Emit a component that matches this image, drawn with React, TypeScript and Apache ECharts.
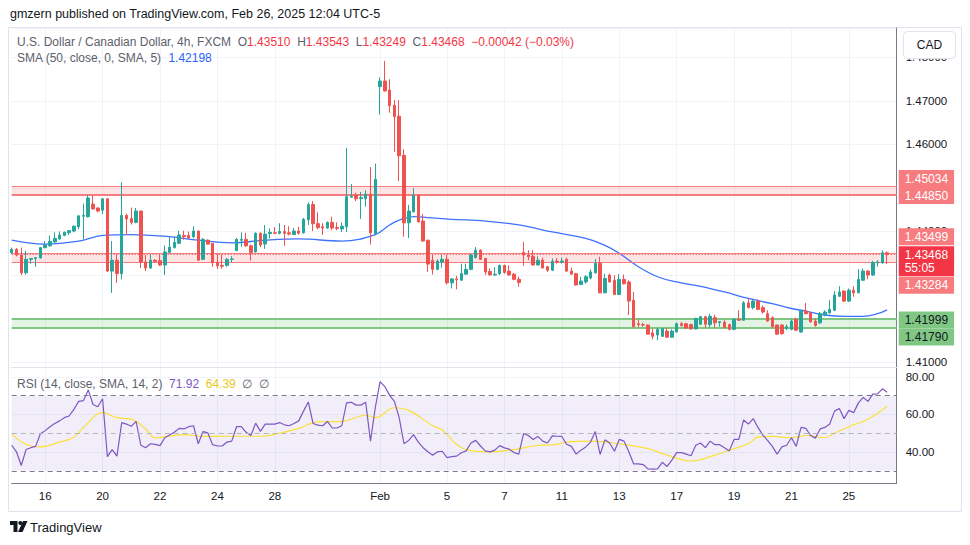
import React, { useEffect, useRef } from "react";
import * as echarts from "echarts";

// ---------------- data ----------------
// 4h USD/CAD candles: [open, close, low, high]
const candles: number[][] = [
  [1.4351, 1.4359, 1.4349, 1.4363], [1.4359, 1.4346, 1.4343, 1.4362], [1.4346, 1.4305, 1.43, 1.4363], [1.4305, 1.4336, 1.4301, 1.4356], [1.4336, 1.4338, 1.4326, 1.4339],
  [1.4338, 1.434, 1.4319, 1.4341], [1.4339, 1.4363, 1.4338, 1.4364], [1.4363, 1.4369, 1.4361, 1.4378], [1.4367, 1.4377, 1.4365, 1.4391], [1.4376, 1.4384, 1.4374, 1.4398],
  [1.4383, 1.4392, 1.4381, 1.44], [1.4391, 1.4398, 1.4389, 1.44], [1.4397, 1.4402, 1.4392, 1.4403], [1.4401, 1.4412, 1.4398, 1.4414], [1.4411, 1.4436, 1.4405, 1.4437],
  [1.4435, 1.4437, 1.4382, 1.4464], [1.4434, 1.4477, 1.4432, 1.4484], [1.4463, 1.4452, 1.445, 1.4483], [1.4454, 1.4447, 1.4444, 1.4456], [1.4449, 1.4475, 1.444, 1.4476],
  [1.4475, 1.4309, 1.4307, 1.4477], [1.4309, 1.4334, 1.4259, 1.4378], [1.4334, 1.4303, 1.4282, 1.4347], [1.4303, 1.4437, 1.429, 1.4513], [1.4437, 1.4429, 1.4392, 1.4441],
  [1.443, 1.4421, 1.4416, 1.4455], [1.4421, 1.4447, 1.4419, 1.4454], [1.4447, 1.433, 1.4316, 1.4448], [1.433, 1.4316, 1.4309, 1.4346], [1.4316, 1.4334, 1.4314, 1.4347],
  [1.4334, 1.4331, 1.4329, 1.4336], [1.4333, 1.4323, 1.4321, 1.4346], [1.4323, 1.4353, 1.43, 1.4368], [1.4352, 1.4364, 1.435, 1.4388], [1.4363, 1.4375, 1.4361, 1.4388],
  [1.4373, 1.4392, 1.4371, 1.4402], [1.4391, 1.4388, 1.4381, 1.4402], [1.4391, 1.4385, 1.4383, 1.44], [1.4388, 1.4401, 1.4384, 1.4412], [1.4401, 1.4334, 1.4333, 1.4402],
  [1.4336, 1.4382, 1.4334, 1.4385], [1.438, 1.4371, 1.437, 1.4382], [1.4373, 1.4328, 1.4319, 1.4373], [1.4329, 1.4321, 1.4314, 1.4348], [1.4322, 1.432, 1.4314, 1.4347],
  [1.4322, 1.4336, 1.4319, 1.4339], [1.4336, 1.4337, 1.4329, 1.4343], [1.4356, 1.4382, 1.4355, 1.4385], [1.438, 1.4382, 1.4365, 1.4398], [1.4382, 1.4367, 1.4365, 1.4397],
  [1.4367, 1.4352, 1.4333, 1.437], [1.4353, 1.4396, 1.4352, 1.4398], [1.4396, 1.4369, 1.4364, 1.4398], [1.4371, 1.4394, 1.436, 1.4415], [1.4395, 1.4398, 1.4384, 1.4407],
  [1.4397, 1.4396, 1.4394, 1.441], [1.4396, 1.44, 1.4393, 1.4419], [1.44, 1.4396, 1.4367, 1.4415], [1.4397, 1.4394, 1.4391, 1.4412], [1.4393, 1.4401, 1.4392, 1.4408],
  [1.4401, 1.4396, 1.4393, 1.4411], [1.4397, 1.4428, 1.4395, 1.4431], [1.4427, 1.4462, 1.4415, 1.4467], [1.4462, 1.4418, 1.4401, 1.447], [1.4418, 1.4409, 1.4405, 1.4444],
  [1.4411, 1.4408, 1.4392, 1.4419], [1.4408, 1.4421, 1.4406, 1.4423], [1.4421, 1.4408, 1.4403, 1.4434], [1.4409, 1.4407, 1.4403, 1.4421], [1.4406, 1.4412, 1.4399, 1.4421],
  [1.4411, 1.448, 1.4399, 1.4592], [1.4479, 1.4481, 1.4478, 1.4509], [1.4484, 1.4475, 1.447, 1.4489], [1.4476, 1.4478, 1.4429, 1.4491], [1.4475, 1.4486, 1.4457, 1.4495],
  [1.4486, 1.4397, 1.437, 1.4548], [1.4395, 1.452, 1.4395, 1.4556], [1.4733, 1.4746, 1.4669, 1.4754], [1.4746, 1.4723, 1.4722, 1.4792], [1.4725, 1.4689, 1.4673, 1.475],
  [1.469, 1.4664, 1.4583, 1.4702], [1.4665, 1.4574, 1.4516, 1.4702], [1.4575, 1.442, 1.4388, 1.4589], [1.442, 1.4447, 1.4385, 1.4461], [1.4445, 1.4483, 1.4445, 1.45],
  [1.4483, 1.4422, 1.4421, 1.4484], [1.4424, 1.4378, 1.4377, 1.444], [1.438, 1.4325, 1.4307, 1.4381], [1.4334, 1.4313, 1.4301, 1.4346], [1.4313, 1.4332, 1.4311, 1.4336],
  [1.433, 1.4336, 1.4317, 1.4346], [1.4336, 1.4282, 1.4278, 1.4346], [1.4282, 1.4291, 1.4269, 1.4293], [1.4291, 1.4289, 1.4267, 1.4298], [1.4288, 1.4303, 1.4287, 1.4326],
  [1.4302, 1.4313, 1.43, 1.4326], [1.4313, 1.4346, 1.4311, 1.4348], [1.434, 1.4357, 1.4338, 1.4364], [1.4357, 1.4336, 1.4335, 1.4359], [1.4338, 1.4307, 1.43, 1.4339],
  [1.4308, 1.43, 1.4299, 1.4315], [1.43, 1.4302, 1.4298, 1.4318], [1.4303, 1.4322, 1.43, 1.4324], [1.4322, 1.4306, 1.4303, 1.4324], [1.4309, 1.43, 1.4299, 1.4322],
  [1.4302, 1.429, 1.4288, 1.4305], [1.429, 1.4283, 1.4273, 1.4296], [1.4352, 1.4346, 1.4321, 1.4376], [1.4346, 1.4342, 1.4334, 1.4357], [1.4343, 1.4323, 1.4322, 1.4357],
  [1.4323, 1.4334, 1.4322, 1.4343], [1.4334, 1.4316, 1.4315, 1.434], [1.4319, 1.4311, 1.4307, 1.4321], [1.4311, 1.4332, 1.4309, 1.4338], [1.4332, 1.433, 1.4326, 1.4339],
  [1.433, 1.4332, 1.4326, 1.434], [1.4336, 1.4309, 1.4307, 1.434], [1.4309, 1.4302, 1.43, 1.4317], [1.4303, 1.4277, 1.4276, 1.4305], [1.4278, 1.4286, 1.4277, 1.4296],
  [1.4284, 1.4296, 1.428, 1.43], [1.4293, 1.4307, 1.429, 1.4313], [1.4305, 1.4327, 1.4303, 1.4337], [1.4327, 1.4259, 1.4258, 1.4342], [1.4259, 1.4292, 1.4258, 1.4303],
  [1.43, 1.4284, 1.4283, 1.4303], [1.4288, 1.4255, 1.4254, 1.43], [1.4255, 1.429, 1.4254, 1.4302], [1.429, 1.428, 1.4278, 1.4301], [1.4284, 1.424, 1.4208, 1.4288],
  [1.4242, 1.4181, 1.418, 1.4261], [1.4188, 1.4186, 1.4179, 1.4198], [1.4186, 1.4185, 1.4181, 1.419], [1.4185, 1.4164, 1.4163, 1.4186], [1.4167, 1.4159, 1.4152, 1.4176],
  [1.4162, 1.4175, 1.415, 1.4179], [1.4159, 1.4177, 1.4158, 1.4179], [1.4171, 1.4157, 1.4156, 1.4179], [1.4157, 1.4171, 1.4156, 1.4175], [1.4169, 1.4188, 1.4168, 1.4191],
  [1.4188, 1.4184, 1.4181, 1.4192], [1.4188, 1.4178, 1.4176, 1.419], [1.4186, 1.4176, 1.4175, 1.4188], [1.4176, 1.42, 1.4175, 1.4202], [1.4187, 1.4204, 1.4185, 1.4206],
  [1.4204, 1.4187, 1.4179, 1.4206], [1.4186, 1.4205, 1.4179, 1.4211], [1.4202, 1.419, 1.4179, 1.4209], [1.4191, 1.4193, 1.4181, 1.4194], [1.4192, 1.4179, 1.4178, 1.4196],
  [1.4186, 1.4175, 1.4173, 1.4188], [1.4175, 1.4198, 1.4173, 1.42], [1.4198, 1.4196, 1.4195, 1.4219], [1.4196, 1.4236, 1.4195, 1.424], [1.4236, 1.4225, 1.4223, 1.4246],
  [1.4225, 1.424, 1.4221, 1.4244], [1.424, 1.4221, 1.4219, 1.4244], [1.4225, 1.4215, 1.4211, 1.423], [1.4211, 1.4194, 1.4192, 1.4219], [1.4202, 1.4181, 1.4179, 1.4205],
  [1.4185, 1.4164, 1.4163, 1.4186], [1.4185, 1.4165, 1.4163, 1.4187], [1.4177, 1.4181, 1.4173, 1.4186], [1.4175, 1.4194, 1.4173, 1.4198], [1.4198, 1.4173, 1.4171, 1.4202],
  [1.4169, 1.4217, 1.4167, 1.4219], [1.4217, 1.4211, 1.421, 1.4236], [1.4213, 1.4192, 1.4191, 1.4215], [1.4194, 1.4184, 1.4181, 1.42], [1.419, 1.4211, 1.4187, 1.4215],
  [1.4208, 1.4215, 1.4205, 1.4219], [1.4213, 1.4221, 1.4211, 1.4242], [1.4219, 1.4254, 1.4217, 1.4263], [1.4251, 1.4261, 1.425, 1.4274], [1.4263, 1.424, 1.4238, 1.4265],
  [1.424, 1.4265, 1.4238, 1.4269], [1.4265, 1.4259, 1.425, 1.4274], [1.4259, 1.429, 1.4258, 1.4313], [1.4288, 1.4309, 1.4286, 1.4315], [1.4309, 1.43, 1.429, 1.4311],
  [1.43, 1.4329, 1.4298, 1.4332], [1.4328, 1.433, 1.4319, 1.4334], [1.4328, 1.4351, 1.4326, 1.4357], [1.4351, 1.43468, 1.43249, 1.43543],
];

// RSI(14) per candle
const rsiValues: number[] = [
  43.6, 40.1, 32.8, 41.3, 42.3, 43.0, 49.7, 51.4, 53.5, 55.2,
  56.6, 58.3, 59.2, 62.7, 67.0, 67.4, 73.1, 65.3, 64.1, 68.4,
  37.5, 41.3, 37.8, 55.7, 54.9, 53.7, 56.3, 43.6, 42.3, 44.4,
  44.1, 43.4, 47.6, 49.1, 50.5, 52.6, 52.3, 53.5, 54.0, 44.4,
  50.9, 50.2, 43.9, 43.2, 43.2, 45.3, 45.8, 53.5, 53.5, 50.5,
  48.8, 55.4, 51.0, 54.9, 54.9, 54.9, 55.7, 54.5, 54.0, 55.2,
  56.6, 61.8, 66.7, 55.2, 54.3, 54.0, 56.3, 52.8, 52.8, 54.0,
  66.2, 66.5, 65.0, 65.0, 66.5, 45.8, 63.6, 77.5, 74.9, 70.2,
  67.0, 58.3, 44.4, 46.2, 49.3, 45.3, 42.3, 40.1, 38.3, 40.1,
  40.4, 37.0, 37.5, 37.8, 39.6, 40.6, 44.8, 46.2, 43.2, 40.6,
  40.1, 41.0, 43.4, 42.2, 41.5, 39.7, 38.9, 49.8, 48.8, 46.7,
  48.3, 45.8, 44.8, 48.6, 48.4, 48.3, 44.1, 43.0, 38.9, 41.0,
  42.7, 45.3, 50.9, 38.7, 46.5, 44.8, 40.4, 46.7, 45.8, 40.1,
  33.7, 33.7, 33.3, 31.0, 30.9, 31.0, 34.5, 32.3, 35.7, 39.7,
  39.7, 38.9, 38.0, 43.6, 44.8, 42.3, 45.8, 43.9, 43.9, 42.3,
  40.6, 46.7, 46.7, 57.1, 54.9, 57.8, 53.1, 49.1, 46.2, 43.0,
  38.9, 42.7, 43.6, 47.6, 43.0, 53.1, 52.6, 48.8, 47.4, 52.3,
  53.1, 54.9, 61.8, 63.2, 57.8, 62.2, 61.0, 66.2, 69.1, 67.0,
  70.9, 71.0, 73.7, 71.92,
];

// RSI-based SMA(14), read at [candle number, value]
const rsiMaPoints: number[][] = [
  [1, 49.7], [4, 44.1], [7, 42.7], [11, 45.3], [14, 47.9], [16, 53.1], [20, 61.0], [23, 58.3], [26, 57.5], [29, 52.3],
  [31, 47.6], [37, 49.3], [41, 48.3], [47, 48.4], [53, 48.4], [57, 50.0], [61, 52.6], [65, 56.1], [70, 56.3], [75, 59.6],
  [77, 58.3], [81, 63.6], [84, 62.2], [89, 54.0], [91, 51.7], [94, 44.0], [96, 41.3], [101, 40.1], [106, 41.3], [110, 43.2],
  [115, 44.1], [117, 45.3], [122, 45.8], [128, 44.4], [134, 41.8], [138, 38.3], [143, 35.2], [148, 38.3], [151, 41.0], [155, 44.4],
  [157, 47.9], [160, 48.3], [164, 47.6], [167, 48.8], [171, 47.6], [173, 50.0], [176, 53.5], [180, 57.5], [184, 64.39],
];

// SMA(50) of close, read at [candle number, value]
const smaPoints: number[][] = [
  [1, 1.438], [8, 1.4371], [15, 1.4378], [20, 1.4391], [26, 1.4393], [34, 1.4388], [40, 1.438], [47, 1.4374], [54, 1.438], [61, 1.4383],
  [70, 1.4378], [77, 1.4393], [80, 1.4415], [82, 1.4426], [85, 1.4434], [88, 1.4432], [93, 1.4428], [100, 1.4424], [107, 1.4415], [114, 1.4399],
  [121, 1.4384], [125, 1.4368], [128, 1.435], [132, 1.4319], [136, 1.4296], [140, 1.4284], [145, 1.4274], [150, 1.4261], [155, 1.4246], [160, 1.4234],
  [164, 1.4223], [167, 1.4217], [171, 1.4208], [175, 1.4205], [179, 1.4205], [182, 1.4211], [184, 1.42198],
];

// horizontal zones
const resistanceZone = [1.45034, 1.4485];
const pivotZone = [1.43499, 1.43284];
const supportZone = [1.41999, 1.4179];
const lastPrice = 1.43468;
const countdown = "55:05";

// price-scale labels that sit under the zone labels in the reference
const hiddenPriceTicks = ["1.45000", "1.43000", "1.42000"];

// x axis ticks
const xTickBars = [
  "2025-01-16 01:00", "2025-01-20 01:00", "2025-01-22 01:00", "2025-01-24 01:00", "2025-01-28 01:00",
  "2025-02-02 17:00", "2025-02-05 01:00", "2025-02-07 01:00", "2025-02-11 01:00", "2025-02-13 01:00",
  "2025-02-17 01:00", "2025-02-19 01:00", "2025-02-21 01:00", "2025-02-25 01:00",
];
const xTickLabels = ["16", "20", "22", "24", "28", "Feb", "5", "7", "11", "13", "17", "19", "21", "25"];

// legend texts
const symbolTitle = "U.S. Dollar / Canadian Dollar, 4h, FXCM";
const ohlcLegend = ["1.43510", "1.43543", "1.43249", "1.43468"];
const changeLegend = "\u22120.00042 (\u22120.03%)";
const smaLegend = "1.42198";
const rsiLegend = ["71.92", "64.39"];

// first bar time (UTC-5 wall clock), 4h bars, FX weekly session
const FIRST_BAR = Date.UTC(2025, 0, 14, 21);
const EMPTY_BARS_RIGHT = 2;

function pad(n: number) {
  return n < 10 ? "0" + n : "" + n;
}
function buildTimes(count: number): string[] {
  const out: string[] = [];
  let t = FIRST_BAR;
  while (out.length < count) {
    const d = new Date(t);
    const dow = d.getUTCDay();
    const h = d.getUTCHours();
    const closed = (dow === 5 && h >= 17) || dow === 6 || (dow === 0 && h < 17);
    if (!closed) {
      out.push(`${d.getUTCFullYear()}-${pad(d.getUTCMonth() + 1)}-${pad(d.getUTCDate())} ${pad(h)}:00`);
    }
    t += 4 * 3600 * 1000;
  }
  return out;
}

const FONT = "'Liberation Sans', Arial, sans-serif";
const UP = "#26a69a";
const DOWN = "#ef5350";
const ZONE_RED = "#f77c80";
const ZONE_GREEN = "#81c784";

export default function App() {
  const ref = useRef<HTMLDivElement>(null);

  useEffect(() => {
    if (!ref.current) return;
    const chart = echarts.init(ref.current, null, { renderer: "svg" });
    const times = buildTimes(candles.length + EMPTY_BARS_RIGHT);
    const tickSet = new Set(xTickBars);
    const labelOf: Record<string, string> = {};
    xTickBars.forEach((t, i) => (labelOf[t] = xTickLabels[i]));
    const isTick = (_i: number, v: string) => tickSet.has(v);

    const GL = 11.7;
    const GW = 885;

    const baseLabel = {
      show: true,
      position: "end",
      distance: 2,
      padding: [2, 6, 2, 6],
      fontSize: 12,
      lineHeight: 13,
      fontFamily: FONT,
    };
    const lvl = (value: number, color: string, width: number, textColor: string, dy: number, type: any = "solid", text?: string, bg?: string) => ({
      yAxis: value,
      lineStyle: { color, width, type },
      label: { ...baseLabel, formatter: text ?? value.toFixed(5), backgroundColor: bg ?? color, color: textColor, offset: [0, dy] },
    });

    const option: any = {
      animation: false,
      backgroundColor: "#ffffff",
      textStyle: { fontFamily: FONT },
      grid: [
        { left: GL, top: 28, width: GW, height: 339, outerBoundsMode: "none" },
        { left: GL, top: 367, width: GW, height: 116, outerBoundsMode: "none" },
      ],
      xAxis: [
        {
          type: "category", gridIndex: 0, data: times, boundaryGap: false,
          axisLine: { show: true, lineStyle: { color: "#e0e3eb" } },
          axisTick: { show: false }, axisLabel: { show: false },
          splitLine: { show: true, interval: isTick, lineStyle: { color: "#f0f3fa", width: 1 } },
        },
        {
          type: "category", gridIndex: 1, data: times, boundaryGap: false,
          axisLine: { show: true, lineStyle: { color: "#787b86" } },
          axisTick: { show: false },
          axisLabel: { show: true, interval: isTick, formatter: (v: string) => labelOf[v] ?? "", color: "#131722", fontSize: 11.5, margin: 7, fontFamily: FONT },
          splitLine: { show: true, interval: isTick, lineStyle: { color: "#f0f3fa", width: 1 } },
        },
      ],
      yAxis: [
        {
          type: "value", gridIndex: 0, position: "right", min: 1.40885, max: 1.48678, splitNumber: 8,
          axisLine: { show: true, lineStyle: { color: "#787b86" } },
          axisTick: { show: false },
          axisLabel: {
            formatter: (v: number) => (hiddenPriceTicks.includes(v.toFixed(5)) ? "" : v.toFixed(5)),
            color: "#131722", fontSize: 11.5, margin: 9, showMinLabel: false, showMaxLabel: false, fontFamily: FONT,
          },
          splitLine: { show: true, lineStyle: { color: "#f0f3fa" } },
        },
        {
          type: "value", gridIndex: 1, position: "right", min: 23.47, max: 85.33, splitNumber: 3,
          axisLine: { show: true, lineStyle: { color: "#787b86" } },
          axisTick: { show: false },
          axisLabel: { formatter: (v: number) => v.toFixed(2), color: "#131722", fontSize: 11.5, margin: 9, showMinLabel: false, showMaxLabel: false, fontFamily: FONT },
          splitLine: { show: true, lineStyle: { color: "#f0f3fa" } },
        },
      ],
      series: [
        {
          type: "candlestick", name: "USDCAD", xAxisIndex: 0, yAxisIndex: 0,
          data: candles, barWidth: 3, clip: false, z: 5,
          itemStyle: { color: UP, color0: DOWN, borderColor: UP, borderColor0: DOWN, borderWidth: 1 },
          markArea: {
            silent: true,
            data: [
              [{ yAxis: resistanceZone[0], itemStyle: { color: "rgba(247,124,128,0.2)" } }, { yAxis: resistanceZone[1] }],
              [{ yAxis: pivotZone[0], itemStyle: { color: "rgba(247,124,128,0.2)" } }, { yAxis: pivotZone[1] }],
              [{ yAxis: supportZone[0], itemStyle: { color: "rgba(129,199,132,0.22)" } }, { yAxis: supportZone[1] }],
            ],
          },
          markLine: {
            silent: true, symbol: "none", precision: 5,
            data: [
              lvl(resistanceZone[0], ZONE_RED, 1, "#ffffff", -8),
              lvl(resistanceZone[1], ZONE_RED, 2, "#ffffff", 1),
              lvl(pivotZone[0], ZONE_RED, 1, "#ffffff", -16.5),
              lvl(lastPrice, "#f23645", 1, "#ffffff", 6.6, [1, 2], `${lastPrice.toFixed(5)}\n${countdown}`, "#f23645"),
              lvl(pivotZone[1], ZONE_RED, 1, "#ffffff", 22.7),
              lvl(supportZone[0], ZONE_GREEN, 2, "#131722", 1.5),
              lvl(supportZone[1], ZONE_GREEN, 2, "#131722", 9.4),
            ],
          },
        },
        {
          type: "line", name: "SMA 50", xAxisIndex: 0, yAxisIndex: 0,
          data: smaPoints.map(([n, v]) => [times[n - 1], v]),
          smooth: 0.4, symbol: "none", z: 4,
          lineStyle: { color: "#2962ff", width: 1.3, opacity: 0.9 },
        },
        {
          type: "line", name: "RSI", xAxisIndex: 1, yAxisIndex: 1,
          data: rsiValues, symbol: "none", z: 4,
          lineStyle: { color: "#7e57c2", width: 1.2 },
          markArea: {
            silent: true,
            data: [[{ yAxis: 70, itemStyle: { color: "rgba(126,87,194,0.1)" } }, { yAxis: 30 }]],
          },
          markLine: {
            silent: true, symbol: "none", label: { show: false },
            data: [
              { yAxis: 70, lineStyle: { color: "#787b86", width: 1, type: [5, 4] } },
              { yAxis: 50, lineStyle: { color: "#b2b5be", width: 1, type: [5, 4] } },
              { yAxis: 30, lineStyle: { color: "#787b86", width: 1, type: [5, 4] } },
            ],
          },
        },
        {
          type: "line", name: "RSI MA", xAxisIndex: 1, yAxisIndex: 1,
          data: rsiMaPoints.map(([n, v]) => [times[n - 1], v]),
          smooth: 0.4, symbol: "none", z: 3,
          lineStyle: { color: "#fbe03a", width: 1.2 },
        },
      ],
      graphic: [
        { type: "rect", silent: true, z: -10, shape: { x: 8.5, y: 27.5, width: 953, height: 484 }, style: { fill: "none", stroke: "#e0e3eb", lineWidth: 1 } },
        {
          type: "text", x: 10, y: 14, z: 50,
          style: { text: "gmzern published on TradingView.com, Feb 26, 2025 12:04 UTC-5", fill: "#131722", fontSize: 12.5, fontFamily: FONT, verticalAlign: "middle" },
        },
        {
          type: "text", x: 17, y: 42, z: 50,
          style: {
            text: `{g|${symbolTitle}}  {g|O}{r|${ohlcLegend[0]}}  {g|H}{r|${ohlcLegend[1]}}  {g|L}{r|${ohlcLegend[2]}}  {g|C}{r|${ohlcLegend[3]}}  {r|${changeLegend}}`,
            fontSize: 12, fontFamily: FONT, verticalAlign: "middle",
            rich: {
              g: { fill: "#5d606b", fontSize: 12, fontFamily: FONT },
              r: { fill: "#f23645", fontSize: 12, fontFamily: FONT },
            },
          },
        },
        {
          type: "text", x: 17, y: 58, z: 50,
          style: {
            text: `{g|SMA (50, close, 0, SMA, 5)}  {b|${smaLegend}}`,
            fontSize: 12, fontFamily: FONT, verticalAlign: "middle",
            rich: {
              g: { fill: "#5d606b", fontSize: 12, fontFamily: FONT },
              b: { fill: "#2962ff", fontSize: 12, fontFamily: FONT },
            },
          },
        },
        {
          type: "text", x: 17, y: 384, z: 50,
          style: {
            text: `{g|RSI (14, close, SMA, 14, 2)}  {p|${rsiLegend[0]}}  {y|${rsiLegend[1]}}  {g|\u2205}  {g|\u2205}`,
            fontSize: 12, fontFamily: FONT, verticalAlign: "middle",
            rich: {
              g: { fill: "#5d606b", fontSize: 12, fontFamily: FONT },
              p: { fill: "#7e57c2", fontSize: 12, fontFamily: FONT },
              y: { fill: "#e8c920", fontSize: 12, fontFamily: FONT },
            },
          },
        },
        { type: "rect", z: 100, shape: { x: 903.5, y: 31.5, width: 52, height: 27, r: 4 }, style: { fill: "#ffffff", stroke: "#e0e3eb", lineWidth: 1 } },
        { type: "text", z: 101, x: 929.5, y: 45, style: { text: "CAD", fill: "#131722", fontSize: 12, fontFamily: FONT, align: "center", verticalAlign: "middle" } },
        { type: "polygon", z: 100, shape: { points: [[10, 521], [17.5, 521], [17.5, 532], [13.5, 532], [13.5, 525], [10, 525]] }, style: { fill: "#131722" } },
        { type: "circle", z: 100, shape: { cx: 20.3, cy: 523, r: 2 }, style: { fill: "#131722" } },
        { type: "polygon", z: 100, shape: { points: [[23, 521], [27.5, 521], [22.5, 532], [18, 532]] }, style: { fill: "#131722" } },
        { type: "text", z: 100, x: 30, y: 527, style: { text: "TradingView", fill: "#131722", fontSize: 13, fontFamily: FONT, verticalAlign: "middle" } },
      ],
    };

    chart.setOption(option);
    return () => chart.dispose();
  }, []);

  return (
    <div
      ref={ref}
      style={{ position: "fixed", left: 0, top: 0, width: 970, height: 545, background: "#ffffff" }}
    />
  );
}
